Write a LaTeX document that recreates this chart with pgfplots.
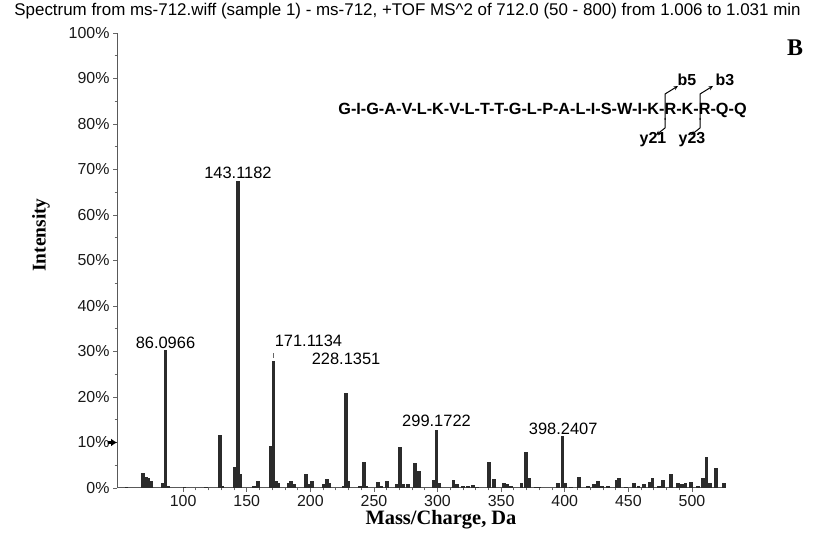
\documentclass[border=0pt]{standalone}
\usepackage{fontspec}
\setmainfont{Liberation Sans}
\newfontfamily\timesf{Liberation Serif}
\usepackage{pgfplots}
\pgfplotsset{compat=1.18}
\usetikzlibrary{arrows.meta}
\definecolor{barc}{HTML}{2B2B2B}
\begin{document}
\begin{tikzpicture}[x=1bp,y=1bp]
\useasboundingbox (0,0) rectangle (815,540);
\begin{axis}[
 at={(117bp,52bp)}, anchor=south west,
 scale only axis, width=608bp, height=455bp,
 xmin=48, xmax=526, ymin=0, ymax=100,
 axis x line=bottom, axis y line=left,
 axis line style={-, draw=black!65, line width=1bp},
 xtick={100,150,...,500},
 xticklabels={100,150,200,250,300,350,400,450,500},
 minor x tick num=4,
 ytick={0,10,...,100},
 yticklabels={0\%,10\%,20\%,30\%,40\%,50\%,60\%,70\%,80\%,90\%,100\%},
 minor y tick num=1,
 tick align=outside, major tick length=4bp, minor tick length=2.5bp,
 tick style={draw=black!60, line width=0.8bp},
 ticklabel style={font=\fontsize{16}{19}\selectfont, text=black!90},
 clip=false,
]
\addplot[ycomb, line width=3.8bp, color=barc] coordinates {
(55.4,0.3) (68.5,3.3) (70.5,2.5) (72.5,2.1) (74.5,1.6) (84,1.2) (86.1,30.3) (88,0.5)
(101,0.2) (118,0.2) (129.1,11.6) (131,0.5) (141,4.6) (143.1,67.4) (145,3.0)
(156,0.5) (159,1.5) (169.1,9.2) (171.1,28.0) (173,1.5) (175,1.0)
(183,1.0) (185,1.5) (187,0.8) (196.5,3.0) (199,0.8) (201,1.6)
(211,0.8) (213,2.0) (215,1.0) (226,0.5) (228.1,20.8) (230,1.5)
(239,0.5) (242,5.8) (244,0.5) (253.5,1.3) (256,0.5) (260,1.5)
(268,0.8) (270.5,9.0) (273,0.8) (277,0.8) (282.5,5.5) (285.5,3.8)
(297,1.8) (299.2,12.8) (301,1.0) (312.5,1.8) (315,0.8) (320,0.5) (324,0.5) (328,0.6) (331,0.3)
(340.5,5.7) (344.5,2.0) (352,1.2) (355,0.8) (358,0.5) (366,1.0) (369.5,8.0) (372,2.3)
(377,0.3) (380,0.3) (395,1.2) (398.2,11.4) (400,1.0) (405,0.3) (411.5,2.5)
(418,0.4) (423,0.8) (426,1.5) (429,0.4) (434,0.5) (441,1.8) (442.5,2.3) (448,0.3)
(454.5,1.0) (458,0.4) (462.5,0.8) (467,1.3) (469,2.2) (474,0.5) (477.5,1.8) (483.5,3.0)
(489,1.0) (492,0.8) (495,1.0) (499,1.3) (505,0.4) (509,2.3) (511.5,6.8) (514,1.0) (519,4.4) (525,1.0)
};
\begin{scope}[every node/.style={font=\fontsize{16.5}{19}\selectfont, inner sep=0.5bp}]
\node at (axis cs:86.1,31.9) {86.0966};
\node at (axis cs:143.1,69.2) {143.1182};
\node at (axis cs:198.5,32.3) {171.1134};
\node at (axis cs:228.1,28.4) {228.1351};
\node at (axis cs:299.2,14.7) {299.1722};
\node at (axis cs:398.8,13.0) {398.2407};
\end{scope}
\draw[black!60, line width=0.6bp] (axis cs:171.1,28.6) -- (axis cs:171.1,29.6);
\draw[-{Latex[length=6bp,width=8bp]}, line width=2.2bp] ([xshift=-9bp]axis cs:48,10) -- (axis cs:48,10);
\end{axis}
% title and labels
\node[font=\fontsize{17}{20}\selectfont] at (407.5,529) {Spectrum from ms-712.wiff (sample 1) - ms-712, +TOF MS\^{}2 of 712.0 (50 - 800) from 1.006 to 1.031 min};
\node[font=\timesf\bfseries\fontsize{24}{28}\selectfont] at (795,492) {B};
\node[font=\timesf\bfseries\fontsize{19.5}{22}\selectfont, rotate=90] at (41,305) {Intensity};
\node[font=\timesf\bfseries\fontsize{20.5}{24}\selectfont] at (441,20) {Mass/Charge, Da};
% peptide sequence and fragments
\node[font=\bfseries\fontsize{16.3}{19}\selectfont] at (542.5,430) {G-I-G-A-V-L-K-V-L-T-T-G-L-P-A-L-I-S-W-I-K-R-K-R-Q-Q};
\begin{scope}[line width=1bp, -{Stealth[length=4.5bp,width=4bp]}]
\draw (665,420) -- (665,446) -- (678,454);
\draw (665,422) -- (665,412) -- (656,405);
\draw (700,420) -- (700,446) -- (713,454);
\draw (700,422) -- (700,412) -- (691,405);
\end{scope}
\begin{scope}[every node/.style={font=\bfseries\fontsize{16}{19}\selectfont}]
\node at (687,460) {b5};
\node at (725,460) {b3};
\node at (653,400) {y21};
\node at (692,400) {y23};
\end{scope}
\end{tikzpicture}
\end{document}
